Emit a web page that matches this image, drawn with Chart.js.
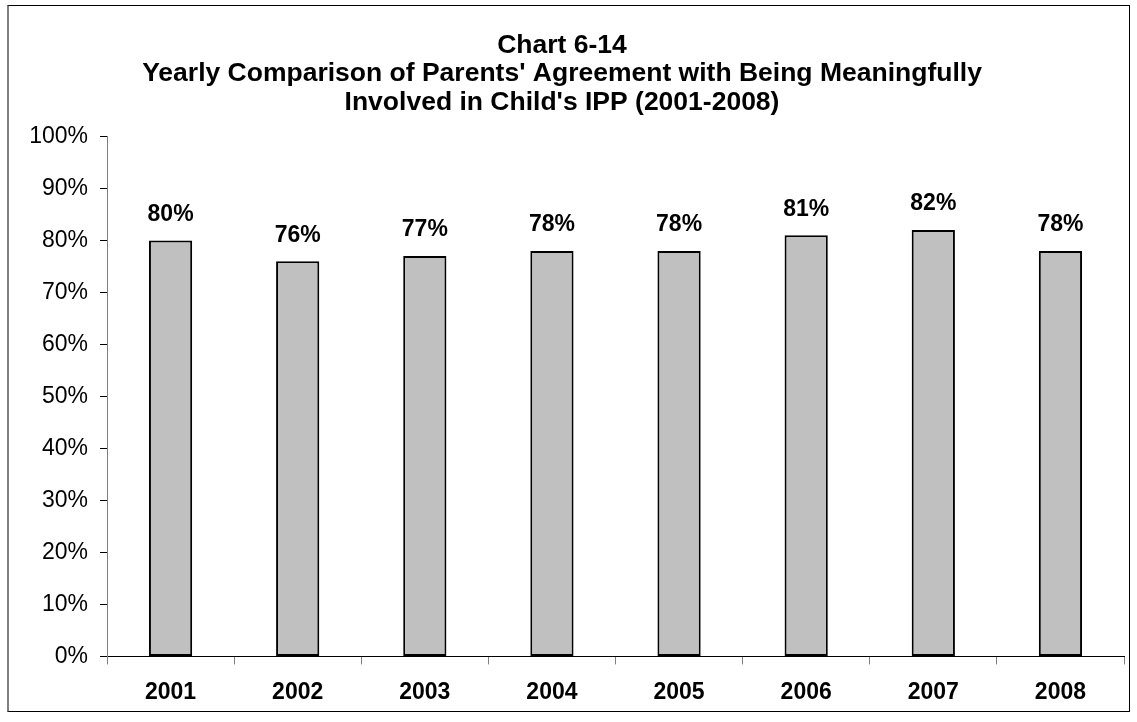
<!DOCTYPE html>
<html>
<head>
<meta charset="utf-8">
<script src="https://cdn.jsdelivr.net/npm/chart.js@4"></script>
<style>
    body { margin: 0; background: #fff; }
    #wrap { position: relative; width: 1137px; height: 722px; }
    #frame { position: absolute; left: 7px; top: 5px; width: 1123px; height: 707px; box-sizing: border-box;
             border: 1px solid #000; border-left: 2px solid #808080; pointer-events: none; }
</style>
</head>
<body>
<div id="wrap">
    <canvas id="chart" width="1137" height="722"></canvas>
    <div id="frame"></div>
</div>
<script>
const years = ["2001", "2002", "2003", "2004", "2005", "2006", "2007", "2008"];
const agreePct = [80, 76, 77, 78, 78, 81, 82, 78];
const titleLines = [
    "Chart 6-14",
    "Yearly Comparison of Parents' Agreement with Being Meaningfully",
    "Involved in Child's IPP (2001-2008)"
];

Chart.defaults.font.family = "'Liberation Sans', Arial, sans-serif";
Chart.defaults.color = "#000";

// 棒の上にパーセント表示
const barLabels = {
    id: "barLabels",
    afterDatasetsDraw(chart) {
        const ctx = chart.ctx;
        const meta = chart.getDatasetMeta(0);
        ctx.save();
        ctx.font = "bold 23px 'Liberation Sans', Arial, sans-serif";
        ctx.fillStyle = "#000";
        ctx.textAlign = "center";
        ctx.textBaseline = "middle";
        meta.data.forEach((bar, i) => {
            ctx.fillText(agreePct[i] + "%", bar.x, bar.y - 26);
        });
        ctx.restore();
    }
};

new Chart(document.getElementById("chart").getContext("2d"), {
    type: "bar",
    data: {
        labels: years,
        datasets: [{
            data: agreePct,
            backgroundColor: "#C0C0C0",
            borderColor: "#000",
            borderWidth: 2,
            borderSkipped: false,
            categoryPercentage: 1,
            barPercentage: 0.34
        }]
    },
    options: {
        responsive: false,
        animation: false,
        layout: { padding: { top: 0, left: 0, right: 13, bottom: 2 } },
        plugins: {
            legend: { display: false },
            tooltip: { enabled: false },
            title: {
                display: true,
                text: titleLines,
                color: "#000",
                font: { size: 26.5, weight: "bold", lineHeight: "28.5px" },
                padding: { top: 31, bottom: 20 }
            }
        },
        scales: {
            x: {
                grid: { drawOnChartArea: false, tickLength: 8, color: "#808080", offset: true },
                border: { color: "#000", width: 1 },
                ticks: { font: { size: 23, weight: "bold" }, padding: 14, color: "#000" }
            },
            y: {
                min: 0,
                max: 100,
                grid: { drawOnChartArea: false, tickLength: 7, color: "#000" },
                border: { color: "#808080", width: 1 },
                ticks: {
                    stepSize: 10,
                    padding: 12,
                    font: { size: 23 },
                    color: "#000",
                    callback: v => v + "%"
                },
                afterFit(scale) { scale.width = 107; }
            }
        }
    },
    plugins: [barLabels]
});
</script>
</body>
</html>
